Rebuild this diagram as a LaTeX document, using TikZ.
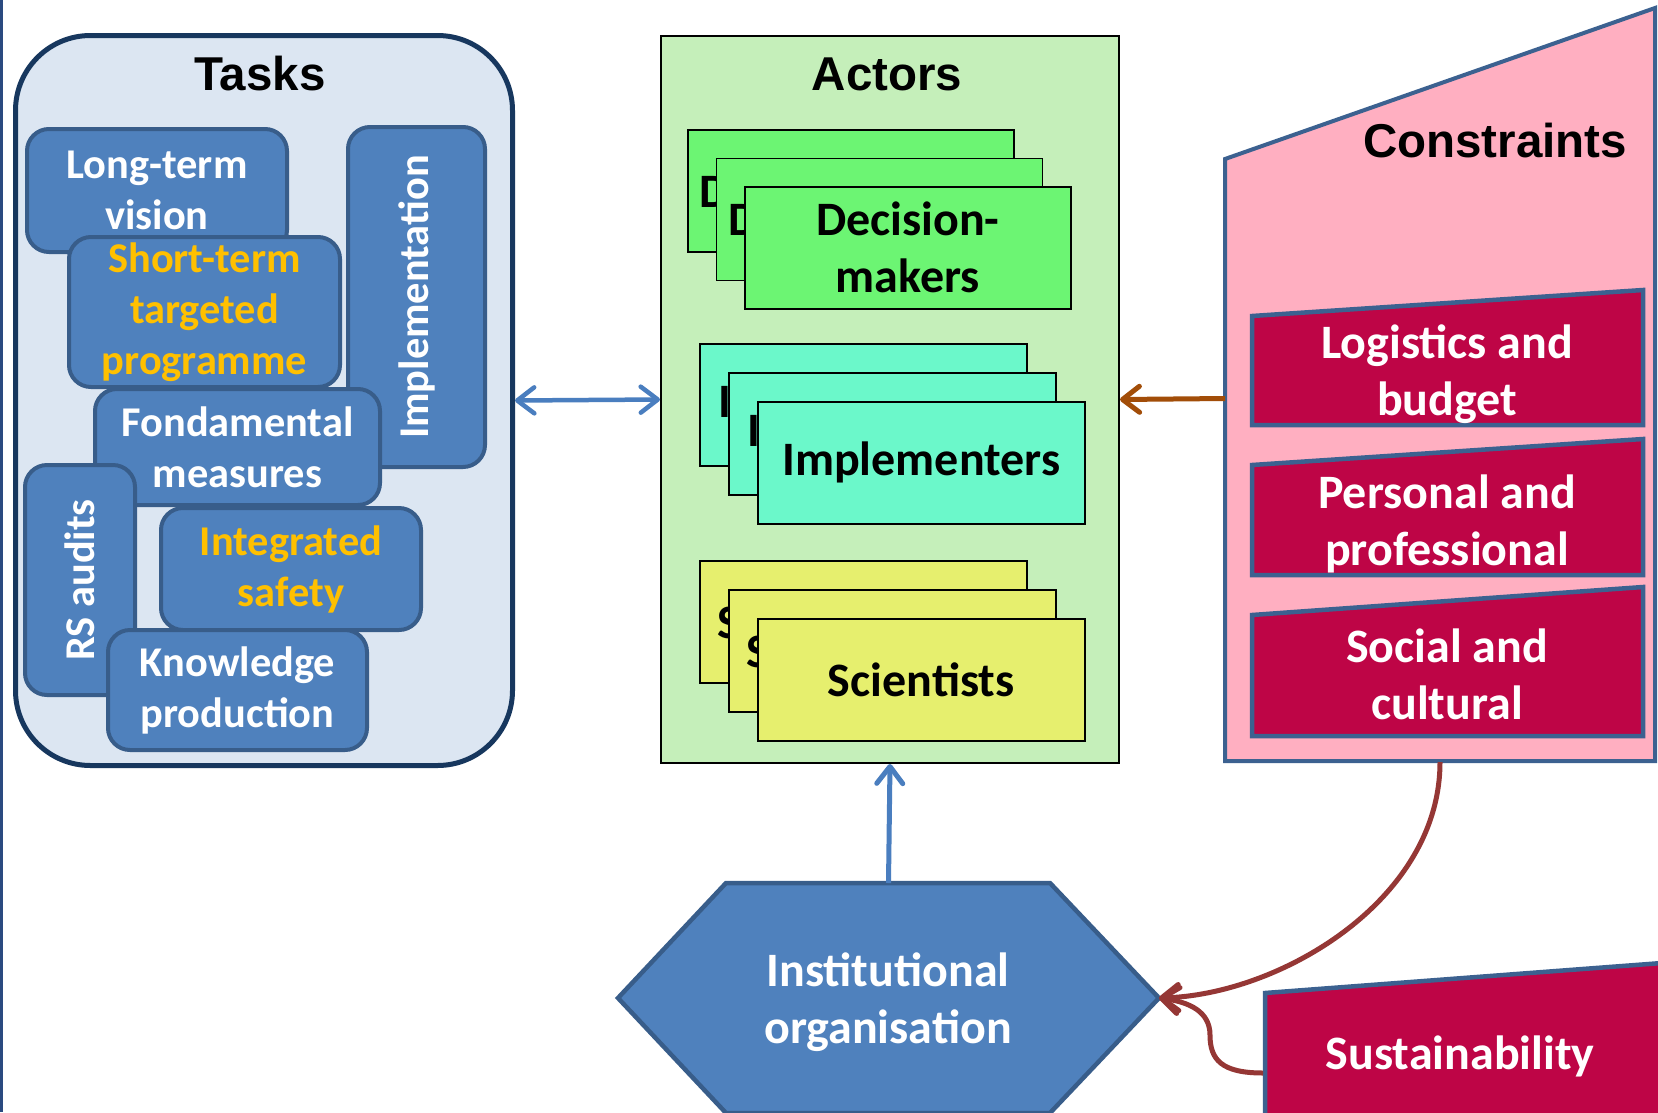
\documentclass[tikz,border=0pt]{standalone}
\usepackage{fontspec}
\setmainfont{Carlito}
\newfontfamily\arialfont{Liberation Sans}
\usetikzlibrary{arrows.meta}

\definecolor{taskback}{HTML}{DCE6F2}
\definecolor{taskedge}{HTML}{17375E}
\definecolor{taskblue}{HTML}{4F81BD}
\definecolor{taskline}{HTML}{385D8A}
\definecolor{gold}{HTML}{FFC000}
\definecolor{actorsgreen}{HTML}{C5EFBA}
\definecolor{decgreen}{HTML}{6CF573}
\definecolor{impcyan}{HTML}{6BF8CA}
\definecolor{scyellow}{HTML}{E6EF6E}
\definecolor{conspink}{HTML}{FFAFC1}
\definecolor{consline}{HTML}{3C6190}
\definecolor{crimson}{HTML}{BE0546}
\definecolor{arrowblue}{HTML}{4A7EBF}
\definecolor{arrowbrown}{HTML}{A24D08}
\definecolor{arrowred}{HTML}{953735}
\definecolor{leftline}{HTML}{2A4A80}

\newcommand\taskfont{\fontsize{42.4}{51}\selectfont\bfseries}
\newcommand\cardfont{\fontsize{48}{57}\selectfont\bfseries}
\newcommand\headingfont{\arialfont\fontsize{47.5}{57}\selectfont\bfseries}

\begin{document}
\begin{tikzpicture}[x=1pt, y=-1pt, >={Straight Barb[length=17pt,width=26pt,round]},
    task/.style={draw=taskline, fill=taskblue, line width=4pt, rounded corners=22pt,
        text=white, font=\taskfont, align=center, inner sep=0pt},
    card/.style={draw=black, line width=1.5pt, font=\cardfont, inner sep=0pt,
        anchor=north west, minimum width=326pt, minimum height=122pt, align=center},
    backcard/.style={card, text width={326pt-2*#1}, inner xsep=#1, align=left},
    cons/.style={draw=consline, fill=crimson, line width=4.5pt},
    constext/.style={text=white, font=\cardfont, align=center},
    title/.style={font=\headingfont, anchor=base},
    link/.style={line width=5pt, ->}
]
    \path[use as bounding box, fill=white] (0,0) rectangle (1658,1112);
    \draw[line width=3pt, leftline] (1.5,0) -- (1.5,1112);

    % Tasks
    \node[draw=taskedge, fill=taskback, line width=5pt, rounded corners=75pt, anchor=north west,
        minimum width=497pt, minimum height=730pt] (tasks) at (13,33) {};
    \node[title] (taskstitle) at (260,90) {Tasks};
    \node[task, anchor=north west, minimum width=260pt, minimum height=123pt] (longterm) at (25,127) {Long-term\\vision};
    \node[task, anchor=north west, minimum width=271pt, minimum height=150pt, text=gold] (shortterm) at (67,235) {Short-term\\targeted\\programme};
    \node[task, rotate=90, minimum width=340pt, minimum height=137pt] (implem) at (416.5,297) {Implementation};
    \node[task, anchor=north west, minimum width=285pt, minimum height=116pt] (fondam) at (93,387) {Fondamental\\measures};
    \node[task, rotate=90, minimum width=230pt, minimum height=110pt] (rsaudits) at (80,580) {RS audits};
    \node[task, anchor=north west, minimum width=260pt, minimum height=122pt, text=gold] (integ) at (159,506) {Integrated\\safety};
    \node[task, anchor=north west, minimum width=259pt, minimum height=120pt] (knowl) at (106,628) {Knowledge\\production};

    % Actors
    \node[draw=black, fill=actorsgreen, line width=2pt, anchor=north west,
        minimum width=458pt, minimum height=727pt] (actors) at (660,35) {};
    \node[title] (actorstitle) at (887,90) {Actors};
    \foreach \i in {0,1}
        \node[backcard=12pt, fill=decgreen] (dm\i) at ({687+28.5*\i},{129+28.5*\i}) {\mbox{Decision-makers}};
    \node[card, fill=decgreen] (dm) at (744,186) {Decision-\\makers};
    \foreach \i in {0,1}
        \node[backcard=18pt, fill=impcyan, minimum width=327pt] (im\i) at ({699+29*\i},{343+29*\i}) {\mbox{Implementers}};
    \node[card, fill=impcyan, minimum width=327pt] (im) at (757,401) {Implementers};
    \foreach \i in {0,1}
        \node[backcard=17pt, fill=scyellow, minimum width=327pt] (sc\i) at ({699+29*\i},{560+29*\i}) {\mbox{Scientists}};
    \node[card, fill=scyellow, minimum width=327pt] (sc) at (757,618) {Scientists};

    % Constraints
    \draw[draw=consline, fill=conspink, line width=4pt] (1225,159) -- (1655,8) -- (1655,761) -- (1225,761) -- cycle;
    \node[title] (constitle) at (1495,157) {Constraints};
    \draw[cons] (1252,316) -- (1643,290) -- (1643,425) -- (1252,425) -- cycle;
    \node[constext] (logist) at (1447,374) {Logistics and\\budget};
    \draw[cons] (1252,465) -- (1643,439) -- (1643,575) -- (1252,575) -- cycle;
    \node[constext] (person) at (1447,524) {Personal and\\professional};
    \draw[cons] (1252,615) -- (1643,587) -- (1643,736) -- (1252,736) -- cycle;
    \node[constext] (social) at (1447,674) {Social and\\cultural};
    \coordinate (consw) at (1225,398.5);
    \coordinate (conss) at (1440,762);

    % Sustainability and institutional organisation
    \draw[cons] (1265,993) -- (1662,963) -- (1662,1125) -- (1265,1125) -- cycle;
    \node[constext] (sustain) at (1460,1056) {Sustainability};
    \coordinate (sustw) at (1263,1073);
    \coordinate (sustbend) at (1210,1035);
    \draw[draw=taskline, fill=taskblue, line width=4.5pt] (618,998) -- (726,883) -- (1050,883)
        -- (1159,998) -- (1050,1113) -- (726,1113) -- cycle;
    \node[constext] (instit) at (888,1002) {Institutional\\organisation};
    \coordinate (hexn) at (888.5,883);
    \coordinate (hexe) at (1159,998);

    % Connectors
    \draw[link, arrowblue, line width=4.5pt, <->] (tasks.east) -- (actors.west);
    \draw[link, arrowbrown] (consw) -- (actors.east);
    \draw[link, arrowblue] (hexn) -- (actors.south);
    \draw[link, arrowred] (conss) .. controls (1440,900) and (1280,995) .. (hexe);
    \draw[link, arrowred] (sustw) .. controls (1222,1073) and (1210,1060) .. (sustbend)
        .. controls (1210,1012) and (1190,1002) .. (hexe);
\end{tikzpicture}
\end{document}
